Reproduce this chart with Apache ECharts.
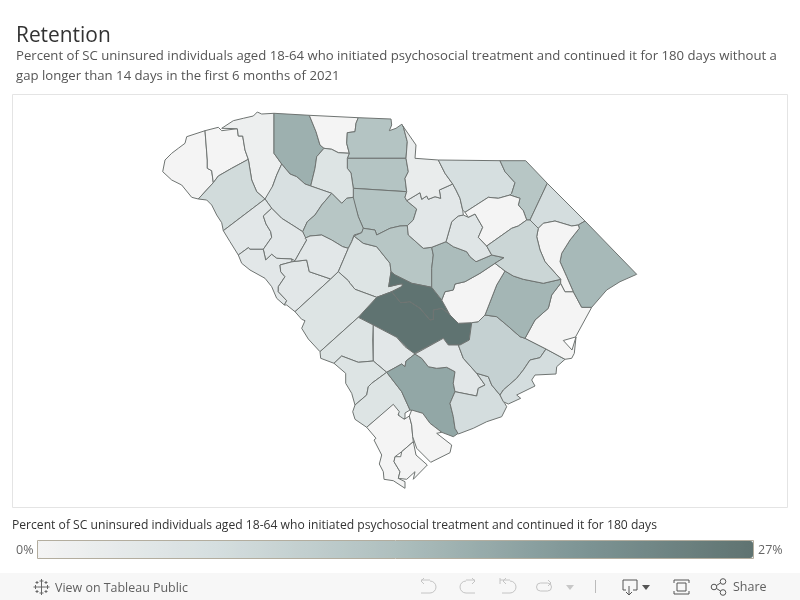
<!DOCTYPE html>
<html><head><meta charset="utf-8">
<style>html,body{margin:0;padding:0;background:#fff}#c{width:800px;height:600px}</style>
<script src="https://cdn.jsdelivr.net/npm/echarts@6/dist/echarts.min.js"></script>
</head><body><div id="c"></div>
<script>
const titleText = 'Retention';
const subtitleText = 'Percent of SC uninsured individuals aged 18-64 who initiated psychosocial treatment and continued it for 180 days without a\ngap longer than 14 days in the first 6 months of 2021';
const legendTitle = 'Percent of SC uninsured individuals aged 18-64 who initiated psychosocial treatment and continued it for 180 days';
const legendMin = 0, legendMax = 27;
const rampColors = ['#f4f4f4','#d5dedf','#aebfbe','#7f9696','#5f7371'];

const counties = ['Oconee','Pickens','Greenville','Spartanburg','Cherokee','York','Chester','Fairfield','Union','Laurens','Newberry','Anderson','Abbeville','Greenwood','McCormick','Edgefield','Saluda','Lexington','Richland','Orangeburg','Calhoun','Aiken','Barnwell','Bamberg','Allendale','Hampton','Colleton','Dorchester','Charleston','Berkeley','Santee','Georgetown','Williamsburg','Clarendon','Sumter','Lee','Kershaw','Lancaster','Chesterfield','Marlboro','Darlington','Dillon','Horry','Marion','Florence','Jasper','Beaufort'];
const retention = [0,0,1.5,16,0,12.5,12.5,12.5,5,6,12,7.5,4,4,4,4,4,5,12,27,27,5,5,4,5,5,17.5,4,7,9.5,7,0,15,0,14,4.5,4,2.5,6.5,12,0,7,14.5,0,8.5,0,0];

const outlines = {
Oconee:[[[186.7,136.7],[205,130.7],[207.3,160],[207.3,168.3],[211.7,170.7],[213.3,182.7],[198.3,199],[191.7,197.3],[181.7,185],[171.7,180],[162.7,171.7],[165,160],[171.7,153.3],[178.3,148.3],[185,143.3]]],
Pickens:[[[205,130.7],[218.3,127.3],[221.7,130.7],[237.3,128.7],[238.3,136],[242.7,136],[245,150],[248.3,159.3],[231.7,168.3],[218.3,176],[213.3,182.7],[211.7,170.7],[207.3,168.3],[207.3,160]]],
Greenville:[[[221.7,128.3],[233.3,120.7],[243.3,118.3],[253.3,116],[257.3,112],[261.7,114],[274,113.3],[274,153.3],[281.7,164],[276.7,175],[272.7,186],[271.7,190.7],[265,199],[256.7,191.7],[251.7,180],[248.3,159.3],[245,150],[242.7,136],[238.3,136],[237.3,128.7]]],
Spartanburg:[[[274,113.3],[309.3,115.3],[316,131.7],[320,145],[324,148.3],[316.7,156.7],[315,168.3],[310.7,186],[305,184],[296.7,176.7],[290,174],[281.7,164],[274,153.3]]],
Cherokee:[[[309.3,115.3],[358.3,117.7],[356,123.3],[355,131.7],[347.3,132.7],[346.7,143.3],[349.3,153.3],[338.3,152.7],[331.7,149.3],[324,148.3],[320,145],[316,131.7]]],
York:[[[358.3,117.7],[391,119],[391.7,125],[389.3,130.7],[396,128.3],[401.7,124.3],[403.3,126.7],[407.3,141.7],[406,158.3],[347.3,158.3],[349.3,153.3],[346.7,143.3],[347.3,132.7],[355,131.7],[356,123.3]]],
Chester:[[[347.3,158.3],[406,158.3],[408.3,171.7],[405,178.3],[406.7,191.7],[353.3,188.3],[351,173],[347.3,168.3]]],
Fairfield:[[[353.3,188.3],[406.7,191.7],[405,197.3],[406.7,200.7],[416.7,209],[413.3,220],[407.3,225.7],[400,226],[390,228.3],[376.7,235],[375,230],[363.3,228.3],[358.3,216.7],[353.3,200]]],
Union:[[[324,148.3],[331.7,149.3],[338.3,152.7],[349.3,153.3],[347.3,158.3],[347.3,168.3],[351,173],[353.3,188.3],[353.3,197.3],[346.7,198.3],[341.7,203.3],[331.7,193.3],[320,189.3],[310.7,186],[315,168.3],[316.7,156.7]]],
Laurens:[[[281.7,164],[290,174],[296.7,176.7],[305,184],[310.7,186],[331.7,193.3],[321.7,205],[315,215],[307.3,221.7],[302.7,231.7],[295,226.7],[281.7,218.3],[271.7,208.3],[265,199],[272.7,186],[276.7,175]]],
Newberry:[[[331.7,193.3],[341.7,203.3],[346.7,198.3],[353.3,197.3],[358.3,216.7],[363.3,228.3],[361.7,232.7],[354,235],[351.7,241.7],[348.3,248.3],[342.7,246.7],[331.7,240],[321.7,235],[310,236],[305,238.3],[302.7,231.7],[307.3,221.7],[315,215],[321.7,205]]],
Anderson:[[[198.3,199],[213.3,182.7],[218.3,176],[231.7,168.3],[248.3,159.3],[251.7,180],[256.7,191.7],[265,199],[223.3,230.7],[221.7,222.7],[216.7,215],[211.7,205],[206.7,200]]],
Abbeville:[[[265,199],[271.7,208.3],[263.3,216],[266,224],[270.7,231.7],[271.7,237.3],[263.3,249.3],[250,249.3],[248.3,247.7],[238.3,255],[230,241.7],[223.3,230.7]]],
Greenwood:[[[271.7,208.3],[281.7,218.3],[295,226.7],[302.7,231.7],[306.7,240],[300,251.7],[295,260.7],[291.7,261.7],[291.7,259],[276.7,258.3],[271.7,254.3],[265.7,260],[263.3,249.3],[271.7,237.3],[270.7,231.7],[266,224],[263.3,216]]],
McCormick:[[[238.3,255],[248.3,247.7],[250,249.3],[263.3,249.3],[265.7,260],[271.7,254.3],[276.7,258.3],[291.7,259],[292.3,261.7],[280,265],[280.7,271.7],[285,276.7],[278.3,286.7],[278.3,291.7],[286.7,300.7],[284.3,305],[276.7,298.3],[271.7,286.7],[265,278.3],[250,270],[241.7,263.3]]],
Edgefield:[[[280,265],[292.3,261.7],[306.7,260],[309.3,271.7],[330.7,279],[295,311.7],[286.7,305],[284.3,305],[286.7,300.7],[278.3,291.7],[278.3,286.7],[285,276.7],[280.7,271.7]]],
Saluda:[[[310,236],[321.7,235],[331.7,240],[342.7,246.7],[348.3,248.3],[343.3,260],[338.3,271.7],[330.7,279],[309.3,271.7],[306.7,260],[292.3,261.7],[291.7,259],[295,260.7],[300,251.7],[306.7,240],[305,238.3]]],
Lexington:[[[348.3,248.3],[351.7,241.7],[354,236],[363.3,243.3],[376.7,246.7],[390,263.3],[391,271.7],[388.7,286.7],[400,284],[403,284],[401.7,286.7],[391.7,291.7],[376.7,297.3],[355,289.3],[350,283.3],[348.3,280.7],[338.3,271.7],[343.3,260]]],
Richland:[[[361.7,232.7],[363.3,228.3],[375,230],[376.7,235],[390,228.3],[400,226],[407.3,225.7],[408.3,235],[423.3,248.3],[431.7,247.3],[433.3,255],[431.7,268.3],[431.7,287.3],[411.7,283.3],[395,275],[391,271.7],[390,263.3],[376.7,246.7],[363.3,243.3],[354,236]]],
Orangeburg:[[[358.3,317.3],[376.7,297.3],[391.7,291.7],[400.7,302.7],[410,301.7],[420,308.3],[430,320],[433.3,319.3],[433.3,310],[441.7,308.3],[448,313],[450,315],[458.3,323.3],[471.7,322.7],[469.3,340],[460,345],[448.3,345],[443.3,338.3],[413.3,354],[396.7,337.3],[373.3,325]]],
Calhoun:[[[391,271.7],[395,275],[411.7,283.3],[431.7,287.3],[441.7,300],[450,315],[448,313],[441.7,308.3],[433.3,310],[433.3,319.3],[430,320],[420,308.3],[410,301.7],[400.7,302.7],[391.7,291.7],[401.7,286.7],[403,284],[400,284],[388.7,286.7]]],
Aiken:[[[330.7,279],[338.3,271.7],[348.3,280.7],[350,283.3],[355,289.3],[376.7,297.3],[358.3,317.3],[320,351.7],[308.3,339],[301.7,328.3],[305,320.7],[301.7,319.3],[295,311.7]]],
Barnwell:[[[320,351.7],[358.3,317.3],[373.3,325],[372.7,340],[373.3,361],[358.3,362.3],[341.7,356],[334,363.3],[320.7,358.3]]],
Bamberg:[[[373.3,325],[396.7,337.3],[405,346.7],[415,354],[406,361],[405,366.7],[401.7,364],[386.7,372.3],[373.3,361]]],
Allendale:[[[341.7,356],[358.3,362.3],[373.3,361],[386.7,372.3],[371.7,383.3],[368.3,386.7],[366.7,395],[355,405],[351.7,393.3],[345.7,383.3],[345.7,373.3],[334,363.3]]],
Hampton:[[[386.7,372.3],[401.7,391.7],[410,410],[405,413],[405,418.3],[400,419.3],[398.3,413.3],[393.3,405],[366.7,427.3],[355,419.3],[352.7,411.7],[355,405],[366.7,395],[368.3,386.7],[371.7,383.3]]],
Colleton:[[[386.7,372.3],[401.7,364],[405,366.7],[406,361],[415,354],[421.7,358.3],[428.3,366.7],[436.7,368.3],[446.7,367.3],[455,371.7],[453.3,383.3],[455,391.7],[450,403.3],[453.3,416.7],[455,428.3],[458.3,433.3],[453.3,436.7],[441.7,432.3],[430,423.3],[422.7,413.3],[410,410],[401.7,391.7]]],
Dorchester:[[[415,354],[443.3,338.3],[448.3,345],[458.3,345],[463.3,358.3],[476.7,373.3],[485,385],[478.3,388.3],[476.7,396],[455,391.7],[453.3,383.3],[455,371.7],[446.7,367.3],[436.7,368.3],[428.3,366.7],[421.7,358.3]]],
Charleston:[[[455,391.7],[476.7,396],[478.3,388.3],[485,385],[476.7,373.3],[488.3,376.7],[491.7,385],[500,395],[506.7,406.7],[501.7,416.7],[486.7,421.7],[473.3,428.3],[458.3,434],[455,428.3],[453.3,416.7],[450,403.3]]],
Berkeley:[[[458.3,345],[460,345],[469.3,340],[471.7,322.7],[478.3,321.7],[485,315],[496.7,316.7],[506.7,325],[520,336.7],[525,338.3],[546,349],[540,357.7],[530,360],[523.3,370],[516.7,378.3],[503.3,390],[500,395],[491.7,385],[488.3,376.7],[476.7,373.3],[463.3,358.3]]],
Santee:[[[500,395],[503.3,390],[516.7,378.3],[523.3,370],[530,360],[540,357.7],[546,349],[565,359.3],[556.7,366.7],[556,374],[535,375],[531.7,380],[535,386],[516.7,395],[520.7,398.3],[508.3,404],[503.3,401.7]]],
Georgetown:[[[525,338.3],[535,320],[548.3,308.3],[551.7,295],[560.7,283.3],[565,291.7],[573.3,291.7],[581.7,307.3],[591.7,307.3],[575.5,337],[563.3,340.5],[572,350],[576,337],[574.3,353.3],[571.7,358.3],[565,359.3],[546,349]]],
Williamsburg:[[[485,315],[496.7,316.7],[506.7,325],[520,336.7],[525,338.3],[535,320],[548.3,308.3],[551.7,295],[560.7,283.3],[560.7,279.3],[543.3,283.3],[523.3,279.3],[513.3,276],[505,271],[496.7,285]]],
Clarendon:[[[441.7,300],[445,291.7],[453.3,290],[455,284],[465,281.7],[480,273.3],[495,263.3],[505,271],[496.7,285],[485,315],[478.3,321.7],[471.7,322.7],[458.3,323.3],[450,315]]],
Sumter:[[[431.7,247.3],[446,241.7],[453.3,246.7],[466.7,251.7],[470,256.7],[476,261.7],[491.7,255],[504,257.7],[495,263.3],[480,273.3],[465,281.7],[455,284],[453.3,290],[445,291.7],[441.7,300],[431.7,287.3],[431.7,268.3],[433.3,255]]],
Lee:[[[446,241.7],[451.7,221.7],[458.3,216],[463.3,215],[468.3,217.3],[475,214],[482.7,227.3],[478.3,237.3],[486.7,246],[491.7,255],[476,261.7],[470,256.7],[466.7,251.7],[453.3,246.7]]],
Kershaw:[[[406.7,200.7],[420,192.7],[421.7,199.3],[426.7,196],[428.3,199.3],[435,196.7],[440.7,198.3],[439.3,190],[452.7,184],[456,190],[460,198.3],[462.7,210],[463.3,215],[458.3,216],[451.7,221.7],[446,241.7],[431.7,247.3],[423.3,248.3],[408.3,235],[407.3,225.7],[413.3,220],[416.7,209]]],
Lancaster:[[[401.7,124.3],[416,145],[415,158.3],[438.3,160],[445,173.3],[452.7,184],[439.3,190],[440.7,198.3],[435,196.7],[428.3,199.3],[426.7,196],[421.7,199.3],[420,192.7],[406.7,200.7],[405,197.3],[406.7,191.7],[405,178.3],[408.3,171.7],[406,158.3],[407.3,141.7],[403.3,126.7]]],
Chesterfield:[[[438.3,160],[500,160.7],[505,171.7],[515,182.7],[511.7,193.3],[510,195],[498.3,198.3],[488.3,197.3],[465,212.3],[462.7,210],[460,198.3],[456,190],[452.7,184],[445,173.3]]],
Marlboro:[[[500,160.7],[525.7,160.7],[547.3,183.3],[530,220],[526.7,220],[523.3,210.7],[518.3,205],[520,198.3],[515,196.7],[510,195],[511.7,193.3],[515,182.7],[505,171.7]]],
Darlington:[[[465,212.3],[488.3,197.3],[498.3,198.3],[510,195],[515,196.7],[520,198.3],[518.3,205],[523.3,210.7],[526.7,220],[518.3,226],[511.7,228.3],[486.7,246],[478.3,237.3],[482.7,227.3],[475,214],[468.3,217.3]]],
Dillon:[[[547.3,183.3],[585,221],[578.3,225],[571.7,226],[555,221],[543.3,223.3],[538.3,228.3],[530,220]]],
Horry:[[[585,221],[636.7,274.3],[620,281.7],[606.7,290],[591.7,307.3],[581.7,307.3],[573.3,291.7],[566.7,276.7],[560,261.7],[561.7,253.3],[570,240],[579.3,228.3],[578.3,225]]],
Marion:[[[538.3,228.3],[543.3,223.3],[555,221],[571.7,226],[578.3,225],[579.3,228.3],[570,240],[561.7,253.3],[560,261.7],[566.7,276.7],[573.3,291.7],[565,291.7],[560.7,283.3],[560.7,279.3],[545,261.7],[540,250],[536.7,236.7]]],
Florence:[[[530,220],[538.3,228.3],[536.7,236.7],[540,250],[545,261.7],[560.7,279.3],[543.3,283.3],[523.3,279.3],[513.3,276],[505,271],[495,263.3],[504,257.7],[491.7,255],[486.7,246],[511.7,228.3],[518.3,226],[526.7,220]]],
Jasper:[[[366.7,427.3],[393.3,404.3],[399.3,411.7],[398,415],[404.3,419.3],[409.3,416],[411.7,425],[412.7,436.7],[413.3,441.7],[401.7,451.7],[395,456.7],[394,461.7],[400,471.7],[398.3,478.3],[405,481.7],[405,488.3],[393.3,480.7],[384,479.3],[383.3,471.7],[379.3,464],[381.7,455],[374,440],[376,438.3]]],
Beaufort:[[[409.3,416],[411.7,410],[422.7,413.3],[430,423.3],[441.7,432.3],[436.7,433.3],[451.7,445],[450,452.7],[430.7,462.3],[416.7,448.3],[412.7,436.7],[411.7,425]],[[395,456.7],[400.7,456.7],[401.7,451.7],[413.3,441.7],[416,455],[427.3,465],[413.3,479.3],[415,471.7],[406.7,479.3],[398.3,478.3],[400,471.7],[394,461.7]]]
};

const geoJson = {type:'FeatureCollection',features:counties.map(name=>({
  type:'Feature',properties:{name},
  geometry:{type:'MultiPolygon',coordinates:outlines[name].map(r=>{
    const ring=r.map(p=>[p[0],-p[1]]);ring.push(ring[0]);return [ring];})}
}))};
echarts.registerMap('SC',geoJson);

const chart = echarts.init(document.getElementById('c'),null,{renderer:'canvas'});
const font = '"Open Sans", sans-serif';
const ic=(shape,type='polyline',extra={})=>({type,shape,silent:true,style:{stroke:extra.stroke||'#c4c4c4',lineWidth:1,fill:extra.fill||'none'}});
const txt=(text,left,top,size,color)=>({text,left,top,padding:0,textStyle:{fontFamily:font,fontSize:size,fontWeight:'normal',color,lineHeight:size*1.46}});
const cross=(x,y,r)=>[ic({x1:x,y1:y-r,x2:x,y2:y+r},'line',{stroke:'#666'}),ic({x1:x-r,y1:y,x2:x+r,y2:y},'line',{stroke:'#666'})];
chart.setOption({
  animation:false,
  backgroundColor:'#ffffff',
  title:[
    txt(titleText,16,21,20.9,'#333333'),
    txt(subtitleText,16,47,13.17,'#555555'),
    txt(legendTitle,12,517,12.13,'#333333'),
    txt(legendMin+'%',16,541,12.5,'#666666'),
    txt(legendMax+'%',758,541,12.5,'#666666'),
    txt('View on Tableau Public',55,579,12.45,'#5f5f5f'),
    txt('Share',733,578,12.5,'#5f5f5f')
  ],
  visualMap:{type:'continuous',min:legendMin,max:legendMax,orient:'horizontal',left:38,top:541,padding:0,
    itemWidth:17,itemHeight:715,text:null,calculable:false,realtime:false,hoverLink:false,seriesIndex:0,
    inRange:{color:rampColors},textStyle:{fontSize:0}},
  series:[{type:'map',map:'SC',roam:false,silent:true,aspectScale:1,
    boundingCoords:[[0,0],[800,-600]],layoutCenter:['50%','50%'],layoutSize:800,
    label:{show:false},itemStyle:{borderColor:'#6f7472',borderWidth:1},
    data:counties.map((name,i)=>({name,value:retention[i]}))}],
  graphic:[
    {type:'rect',z:-10,silent:true,shape:{x:12.5,y:94.5,width:775,height:413},style:{fill:'#fff',stroke:'#e4e4e4',lineWidth:1}},
    {type:'rect',z:10,silent:true,shape:{x:37.5,y:540.5,width:716,height:18},style:{fill:'none',stroke:'#b3ad9e',lineWidth:1}},
    {type:'rect',z:-10,silent:true,shape:{x:0,y:573,width:800,height:27},style:{fill:'#f7f7f7'}},
    {type:'group',z:10,silent:true,children:[].concat(cross(41.5,587,4),cross(41.5,581,2),cross(41.5,593,2),cross(35.5,587,2),cross(47.5,587,2),cross(37,582.5,1.5),cross(46,582.5,1.5),cross(37,591.5,1.5),cross(46,591.5,1.5))},
    {type:'group',z:10,silent:true,children:[
      ic({points:[[421,580],[430,580]]}),ic({points:[[424,578],[421,581],[424,584]]}),
      ic({cx:430,cy:587,r:6,startAngle:-Math.PI/2,endAngle:Math.PI/2,clockwise:true},'arc'),ic({points:[[430,593],[421,593]]}),
      ic({points:[[475,580],[466,580]]}),ic({points:[[472,578],[475,581],[472,584]]}),
      ic({cx:466,cy:587,r:6,startAngle:Math.PI/2,endAngle:-Math.PI/2,clockwise:true},'arc'),ic({points:[[466,593],[475,593]]}),
      ic({points:[[500,580],[510,580]]}),ic({x1:500,y1:578,x2:500,y2:584},'line'),ic({points:[[506,578],[503,581],[506,584]]}),
      ic({cx:510,cy:587,r:6,startAngle:-Math.PI/2,endAngle:Math.PI/2,clockwise:true},'arc'),ic({points:[[510,593],[502,593]]}),
      ic({x:536.5,y:583,width:15,height:8,r:4},'rect'),ic({points:[[548,580],[551,583],[548,586]]}),
      {type:'polygon',shape:{points:[[566,585],[574,585],[570,590]]},style:{fill:'#c8c8c8'}},
      ic({x1:595.5,y1:580,x2:595.5,y2:593},'line',{stroke:'#bbb'})]},
    {type:'group',z:10,silent:true,children:[
      ic({points:[[626,590],[623,590],[623,580],[637,580],[637,590],[633,590]]},'polyline',{stroke:'#555'}),
      ic({points:[[629,586],[629,594]]},'polyline',{stroke:'#555'}),ic({points:[[626,592],[629,595],[632,592]]},'polyline',{stroke:'#555'}),
      {type:'polygon',shape:{points:[[642,585],[650,585],[646,590]]},style:{fill:'#555'}},
      ic({points:[[674,583],[674,580],[689,580],[689,583]]},'polyline',{stroke:'#555'}),
      ic({points:[[674,591],[674,594],[689,594],[689,591]]},'polyline',{stroke:'#555'}),
      ic({x:677,y:583,width:9,height:8},'rect',{stroke:'#555'}),
      ic({cx:714,cy:587,r:2.8},'circle',{stroke:'#555'}),ic({cx:723,cy:581.5,r:2.8},'circle',{stroke:'#555'}),ic({cx:723,cy:592.5,r:2.8},'circle',{stroke:'#555'}),
      ic({x1:716.5,y1:585.5,x2:720.5,y2:583},'line',{stroke:'#555'}),ic({x1:716.5,y1:588.5,x2:720.5,y2:591},'line',{stroke:'#555'})]}
  ]
});
</script></body></html>
